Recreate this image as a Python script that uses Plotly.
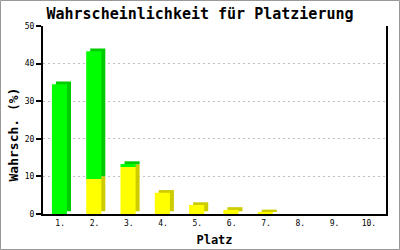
import plotly.graph_objects as go

places = ["1.", "2.", "3.", "4.", "5.", "6.", "7.", "8.", "9.", "10."]
yellow = [0, 9.3, 12.5, 5.65, 2.4, 1.1, 0.45, 0, 0, 0]
green = [34.5, 34.0, 0.8, 0, 0, 0, 0, 0, 0, 0]

W, H = 400, 250
ML, MR, MT, MB = 43, 14, 26, 36
PW, PH = W - ML - MR, H - MT - MB
YMAX = 50

# 3D depth in data units (pixel offsets converted via axis scale)
DX = 4 / (PW / len(places))
DY = 2.7 / (PH / YMAX)
BW = 0.44
OFF = -0.24

x = list(range(len(places)))
green_base = yellow[:]

fig = go.Figure()
# back (depth) faces
fig.add_bar(x=x, y=yellow, base=[DY] * len(x), width=BW, offset=OFF + DX,
            marker=dict(color="#cccc00", line=dict(width=0)), hoverinfo="skip")
fig.add_bar(x=x, y=green, base=[b + DY for b in green_base], width=BW, offset=OFF + DX,
            marker=dict(color="#00cc00", line=dict(width=0)), hoverinfo="skip")
# front faces
fig.add_bar(x=x, y=yellow, base=[0] * len(x), width=BW, offset=OFF,
            marker=dict(color="#ffff00", line=dict(width=0)))
fig.add_bar(x=x, y=green, base=green_base, width=BW, offset=OFF,
            marker=dict(color="#00ff00", line=dict(width=0)))

mono = "DejaVu Sans Mono"
fig.update_layout(
    width=W, height=H, margin=dict(l=ML, r=MR, t=MT, b=MB, autoexpand=False),
    barmode="overlay", showlegend=False,
    paper_bgcolor="white", plot_bgcolor="white",
    title=dict(text="Wahrscheinlichkeit für Platzierung", x=0.5, xref="container",
               y=1 - 14 / H, yref="container", xanchor="center", yanchor="middle",
               font=dict(family=mono, size=15, color="black", weight="bold")),
    xaxis=dict(range=[-0.5, len(places) - 0.5], tickvals=x, ticktext=places,
               showline=True, linecolor="black", linewidth=2, ticks="",
               showgrid=False, zeroline=False, automargin=False,
               tickfont=dict(family=mono, size=8, color="black"),
               title=dict(text="Platz", standoff=9,
                          font=dict(family=mono, size=12, color="black", weight="bold"))),
    yaxis=dict(range=[0, YMAX], tickvals=[0, 10, 20, 30, 40, 50],
               showline=True, linecolor="black", linewidth=2, mirror=True,
               ticks="outside", ticklen=5, tickcolor="black", tickwidth=2,
               showgrid=True, gridcolor="#c0c0c0", griddash="2px,3px", gridwidth=1,
               zeroline=False, automargin=False,
               tickfont=dict(family=mono, size=8, color="black")),
    shapes=[dict(type="rect", xref="paper", yref="paper",
                 x0=(0.5 - ML) / PW, x1=(W - 0.5 - ML) / PW,
                 y0=-(MB - 0.5) / PH, y1=(H - MB - 0.5) / PH,
                 line=dict(color="#999999", width=1), layer="below")],
    annotations=[dict(text="Wahrsch. (%)", textangle=-90, showarrow=False,
                      xref="paper", yref="paper", x=(12.5 - ML) / PW,
                      y=(H - MB - 135) / PH, xanchor="center", yanchor="middle",
                      font=dict(family=mono, size=13, color="black", weight="bold"))],
)

fig.write_html("out.html")
